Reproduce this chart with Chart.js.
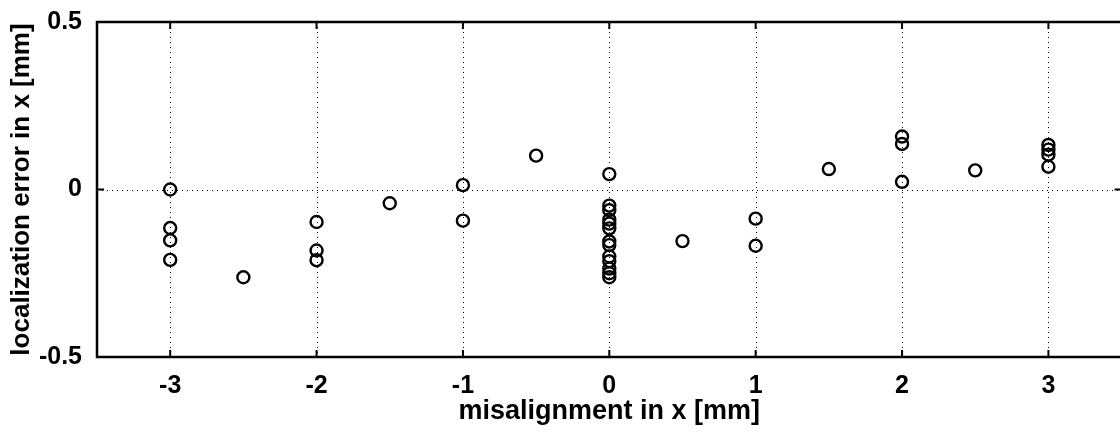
<!DOCTYPE html>
<html>
<head>
<meta charset="utf-8">
<script src="https://cdn.jsdelivr.net/npm/chart.js@4"></script>
<style>
  html, body { margin: 0; padding: 0; background: #fff; overflow: hidden; }
  #wrap { width: 1130px; height: 434px; }
</style>
</head>
<body>
<div id="wrap"><canvas id="errChart"></canvas></div>
<script>
// misalignment (x) and localization error (y) pairs
var misalignX = [
  -3, -3, -3, -3,
  -2.5,
  -2, -2, -2,
  -1.5,
  -1, -1,
  -0.5,
  0, 0, 0, 0, 0, 0, 0, 0, 0, 0, 0, 0, 0,
  0.5,
  1, 1,
  1.5,
  2, 2, 2,
  2.5,
  3, 3, 3, 3
];
var locErrorX = [
  0.0, -0.115, -0.152, -0.21,
  -0.262,
  -0.097, -0.182, -0.211,
  -0.041,
  0.013, -0.093,
  0.101,
  0.046, -0.048, -0.062, -0.09, -0.102, -0.116, -0.155, -0.166, -0.2, -0.214, -0.236, -0.25, -0.262,
  -0.154,
  -0.087, -0.168,
  0.061,
  0.158, 0.136, 0.023,
  0.057,
  0.133, 0.119, 0.104, 0.068
];
var xTicks = [-3, -2, -1, 0, 1, 2, 3];
var yTicks = [-0.5, 0, 0.5];

var points = misalignX.map(function (x, i) { return { x: x, y: locErrorX[i] }; });

var font = 'Liberation Sans, Arial, Helvetica, sans-serif';

// MATLAB-style frame: dotted grid, box, inward ticks
var matlabAxes = {
    id: 'matlabAxes',
    beforeDatasetsDraw: function (chart) {
        var ctx = chart.ctx, a = chart.chartArea;
        var xs = chart.scales.x, ys = chart.scales.y;
        ctx.save();
        ctx.strokeStyle = '#000';
        ctx.lineWidth = 1;
        ctx.setLineDash([1, 4]);
        xTicks.forEach(function (t) {
            var px = Math.round(xs.getPixelForValue(t)) + 0.5;
            ctx.beginPath(); ctx.moveTo(px, a.top); ctx.lineTo(px, a.bottom); ctx.stroke();
        });
        yTicks.forEach(function (t) {
            if (t === yTicks[0] || t === yTicks[yTicks.length - 1]) return;
            var py = Math.round(ys.getPixelForValue(t)) + 0.5;
            ctx.beginPath(); ctx.moveTo(a.left, py); ctx.lineTo(a.right, py); ctx.stroke();
        });
        ctx.restore();
    },
    afterDatasetsDraw: function (chart) {
        var ctx = chart.ctx, a = chart.chartArea;
        var xs = chart.scales.x, ys = chart.scales.y;
        var tl = 7;
        ctx.save();
        ctx.strokeStyle = '#000';
        ctx.lineWidth = 2.5;
        ctx.setLineDash([]);
        ctx.strokeRect(a.left, a.top, a.right - a.left, a.bottom - a.top);
        ctx.lineWidth = 2;
        ctx.beginPath();
        xTicks.forEach(function (t) {
            var px = xs.getPixelForValue(t);
            ctx.moveTo(px, a.bottom); ctx.lineTo(px, a.bottom - tl);
            ctx.moveTo(px, a.top); ctx.lineTo(px, a.top + tl);
        });
        yTicks.forEach(function (t) {
            var py = ys.getPixelForValue(t);
            ctx.moveTo(a.left, py); ctx.lineTo(a.left + tl, py);
            ctx.moveTo(a.right, py); ctx.lineTo(a.right - tl, py);
        });
        ctx.stroke();
        ctx.restore();
    }
};

var ctx = document.getElementById('errChart').getContext('2d');
new Chart(ctx, {
    type: 'scatter',
    data: {
        datasets: [{
            data: points,
            pointStyle: 'circle',
            pointRadius: 6,
            pointHoverRadius: 6,
            borderWidth: 2.4,
            borderColor: '#000',
            backgroundColor: 'rgba(0,0,0,0)'
        }]
    },
    plugins: [matlabAxes],
    options: {
        responsive: true,
        maintainAspectRatio: false,
        animation: false,
        events: [],
        layout: { padding: { top: 15, right: 6, left: 0, bottom: 0 } },
        plugins: {
            legend: { display: false },
            tooltip: { enabled: false }
        },
        scales: {
            x: {
                type: 'linear',
                min: -3.5,
                max: 3.5,
                afterBuildTicks: function (s) { s.ticks = xTicks.map(function (v) { return { value: v }; }); },
                afterFit: function (s) { s.height = 77; },
                grid: { display: false },
                border: { display: false },
                ticks: {
                    color: '#000',
                    padding: 6,
                    maxRotation: 0,
                    font: { family: font, size: 25, weight: 'bold' }
                },
                title: {
                    display: true,
                    text: 'misalignment in x [mm]',
                    color: '#000',
                    padding: { top: 0, bottom: 6 },
                    font: { family: font, size: 27, weight: 'bold' }
                }
            },
            y: {
                type: 'linear',
                min: -0.5,
                max: 0.5,
                afterBuildTicks: function (s) { s.ticks = yTicks.map(function (v) { return { value: v }; }); },
                afterFit: function (s) { s.width = 97; },
                grid: { display: false },
                border: { display: false },
                ticks: {
                    color: '#000',
                    padding: 7,
                    font: { family: font, size: 25, weight: 'bold' }
                },
                title: {
                    display: true,
                    text: 'localization error in x [mm]',
                    color: '#000',
                    padding: { top: 6, bottom: 0 },
                    font: { family: font, size: 26, weight: 'bold' }
                }
            }
        }
    }
});
</script>
</body>
</html>
